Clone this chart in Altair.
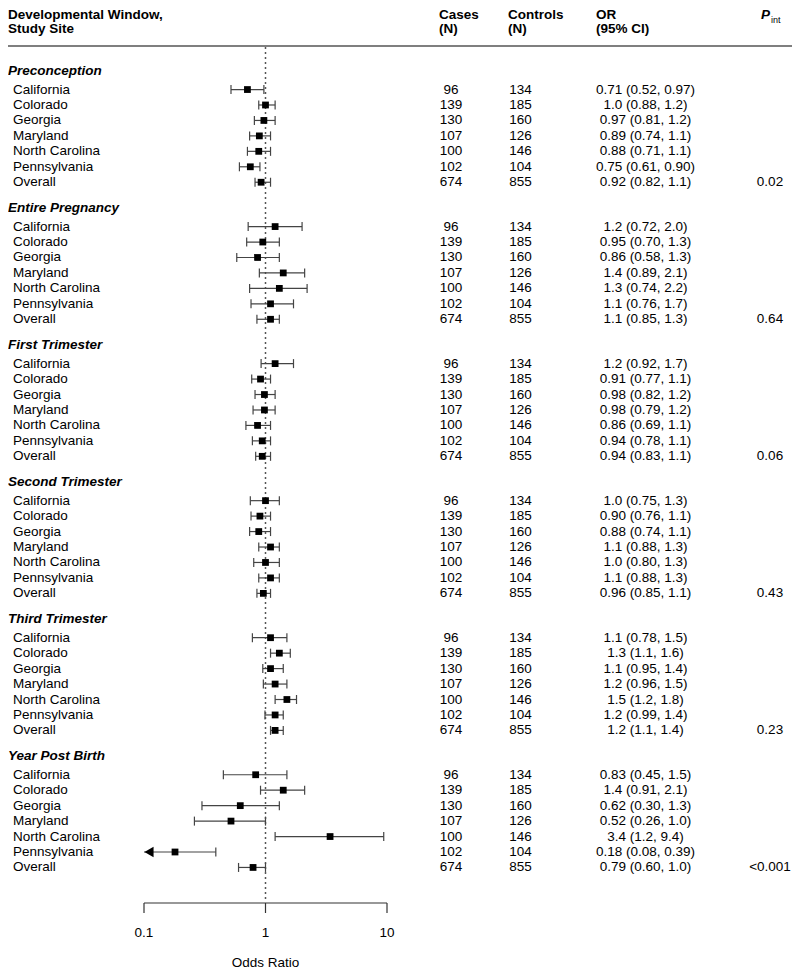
import altair as alt
import pandas as pd

# ---------------- data ----------------
windows = ["Preconception", "Entire Pregnancy", "First Trimester",
           "Second Trimester", "Third Trimester", "Year Post Birth"]
sites = ["California", "Colorado", "Georgia", "Maryland",
         "North Carolina", "Pennsylvania", "Overall"]
cases = [96, 139, 130, 107, 100, 102, 674]
controls = [134, 185, 160, 126, 146, 104, 855]

or_preconception = ["0.71 (0.52, 0.97)", "1.0 (0.88, 1.2)", "0.97 (0.81, 1.2)",
                    "0.89 (0.74, 1.1)", "0.88 (0.71, 1.1)", "0.75 (0.61, 0.90)",
                    "0.92 (0.82, 1.1)"]
or_entire = ["1.2 (0.72, 2.0)", "0.95 (0.70, 1.3)", "0.86 (0.58, 1.3)",
             "1.4 (0.89, 2.1)", "1.3 (0.74, 2.2)", "1.1 (0.76, 1.7)",
             "1.1 (0.85, 1.3)"]
or_first = ["1.2 (0.92, 1.7)", "0.91 (0.77, 1.1)", "0.98 (0.82, 1.2)",
            "0.98 (0.79, 1.2)", "0.86 (0.69, 1.1)", "0.94 (0.78, 1.1)",
            "0.94 (0.83, 1.1)"]
or_second = ["1.0 (0.75, 1.3)", "0.90 (0.76, 1.1)", "0.88 (0.74, 1.1)",
             "1.1 (0.88, 1.3)", "1.0 (0.80, 1.3)", "1.1 (0.88, 1.3)",
             "0.96 (0.85, 1.1)"]
or_third = ["1.1 (0.78, 1.5)", "1.3 (1.1, 1.6)", "1.1 (0.95, 1.4)",
            "1.2 (0.96, 1.5)", "1.5 (1.2, 1.8)", "1.2 (0.99, 1.4)",
            "1.2 (1.1, 1.4)"]
or_postbirth = ["0.83 (0.45, 1.5)", "1.4 (0.91, 2.1)", "0.62 (0.30, 1.3)",
                "0.52 (0.26, 1.0)", "3.4 (1.2, 9.4)", "0.18 (0.08, 0.39)",
                "0.79 (0.60, 1.0)"]
p_int = ["0.02", "0.64", "0.06", "0.43", "0.23", "<0.001"]

axis_ticks = [0.1, 1, 10]
axis_labels = ["0.1", "1", "10"]

# ---------------- build tables ----------------
or_by_window = [or_preconception, or_entire, or_first, or_second, or_third, or_postbirth]
X_MIN, X_MAX = 0.1, 10
GROUP_STEP = 8.87
HEADER_GAP = 1.2

rows = []
headers = []
for g, (win, labels) in enumerate(zip(windows, or_by_window)):
    base_y = g * GROUP_STEP
    headers.append({"window": win, "y": base_y})
    for i, (site, lab) in enumerate(zip(sites, labels)):
        est, lo, hi = [float(v) for v in
                       lab.replace("(", " ").replace(")", " ").replace(",", " ").split()]
        rows.append({
            "window": win, "site": site, "y": base_y + HEADER_GAP + i,
            "cases": str(cases[i]), "controls": str(controls[i]),
            "est": est, "lo": lo, "hi": hi,
            "lo_clip": max(lo, X_MIN), "arrow": lo < X_MIN,
            "label": lab, "p": p_int[g] if site == "Overall" else "",
        })
df = pd.DataFrame(rows)
hdf = pd.DataFrame(headers)

caps = pd.concat([
    df.loc[~df["arrow"], ["y"]].assign(cx=df.loc[~df["arrow"], "lo"]),
    df[["y"]].assign(cx=df["hi"]),
])
arrows = df[df["arrow"]]
pdf = df[df["p"] != ""]
axdf = pd.DataFrame({"tick": axis_ticks, "lab": axis_labels})
axline = pd.DataFrame({"a": [X_MIN], "b": [X_MAX], "one": [1.0]})

FONT = "Liberation Sans"
FS = 13.5
xs = alt.Scale(type="log", domain=[X_MIN, X_MAX], range=[136, 379], nice=False)
ys = alt.Scale(domain=[0, 50], range=[63, 63 + 50 * 15.45], zero=False, nice=False)
LINE = "#444444"


def X(field):
    return alt.X(field, scale=xs, axis=None)


def Y(field):
    return alt.Y(field, scale=ys, axis=None)


def label(text, px, py, align="left", bold=True, italic=False, size=FS):
    return alt.Chart(pd.DataFrame({"t": [text]})).mark_text(
        align=align, baseline="middle", font=FONT, fontSize=size,
        fontWeight="bold" if bold else "normal",
        fontStyle="italic" if italic else "normal", color="black",
    ).encode(x=alt.value(px), y=alt.value(py), text="t:N")


base = alt.Chart(df)

ref_line = alt.Chart(axline).mark_rule(
    color="#555555", strokeWidth=1.5, strokeDash=[2, 3]
).encode(x=X("one:Q"), y=alt.value(39), y2=alt.value(893))

ci = base.mark_rule(color=LINE, strokeWidth=1.2).encode(
    x=X("lo_clip:Q"), x2="hi:Q", y=Y("y:Q"))
cap = alt.Chart(caps).mark_tick(orient="vertical", size=9, thickness=1.2,
                                color=LINE, opacity=1).encode(
    x=X("cx:Q"), y=Y("y:Q"))
sq = base.mark_square(size=46, color="black", opacity=1).encode(
    x=X("est:Q"), y=Y("y:Q"))
arr = alt.Chart(arrows).mark_point(shape="triangle-left", filled=True, size=110,
                                   color="black", opacity=1, xOffset=5).encode(
    x=X("lo_clip:Q"), y=Y("y:Q"))


def col(field, px, align):
    return base.mark_text(align=align, baseline="middle", font=FONT,
                          fontSize=FS, color="black").encode(
        x=alt.value(px), y=Y("y:Q"), text=f"{field}:N")


site_txt = col("site", 5, "left")
cases_txt = col("cases", 443, "center")
ctrl_txt = col("controls", 512.5, "center")
or_txt = col("label", 637.5, "center")
p_txt = alt.Chart(pdf).mark_text(align="center", baseline="middle", font=FONT,
                                 fontSize=FS, color="black").encode(
    x=alt.value(762), y=Y("y:Q"), text="p:N")
head_txt = alt.Chart(hdf).mark_text(align="left", baseline="middle", font=FONT,
                                    fontSize=FS, fontWeight="bold",
                                    fontStyle="italic", color="black").encode(
    x=alt.value(0), y=Y("y:Q"), text="window:N")

top_rule = alt.Chart(axline).mark_rule(color="#555555", strokeWidth=1.5).encode(
    x=alt.value(0), x2=alt.value(784), y=alt.value(38))

ax_line = alt.Chart(axline).mark_rule(color="#333333", strokeWidth=1.2).encode(
    x=X("a:Q"), x2="b:Q", y=alt.value(895))
ax_ticks = alt.Chart(axdf).mark_rule(color="#333333", strokeWidth=1.2).encode(
    x=X("tick:Q"), y=alt.value(895), y2=alt.value(905))
ax_labels = alt.Chart(axdf).mark_text(align="center", baseline="middle", font=FONT,
                                      fontSize=FS, color="black").encode(
    x=X("tick:Q"), y=alt.value(925), text="lab:N")
ax_title = alt.Chart(axline).mark_text(align="center", baseline="middle", font=FONT,
                                       fontSize=FS, color="black",
                                       text="Odds Ratio").encode(
    x=X("one:Q"), y=alt.value(955))

headers_top = [
    label("Developmental Window,", 0, 7),
    label("Study Site", 0, 21),
    label("Cases", 431, 7),
    label("(N)", 431, 21),
    label("Controls", 500, 7),
    label("(N)", 500, 21),
    label("OR", 588, 7),
    label("(95% CI)", 588, 21),
    label("P", 753, 7, italic=True),
    label("int", 763, 12, bold=False, size=9),
]

chart = alt.layer(
    top_rule, ref_line, ci, cap, sq, arr,
    site_txt, cases_txt, ctrl_txt, or_txt, p_txt, head_txt,
    ax_line, ax_ticks, ax_labels, ax_title, *headers_top,
).properties(
    width=784, height=964, padding=0,
    autosize=alt.AutoSizeParams(type="none"),
).configure_view(stroke=None).configure_axis(disable=True)

chart.save("out.html", embed_options={"renderer": "svg", "actions": False})
